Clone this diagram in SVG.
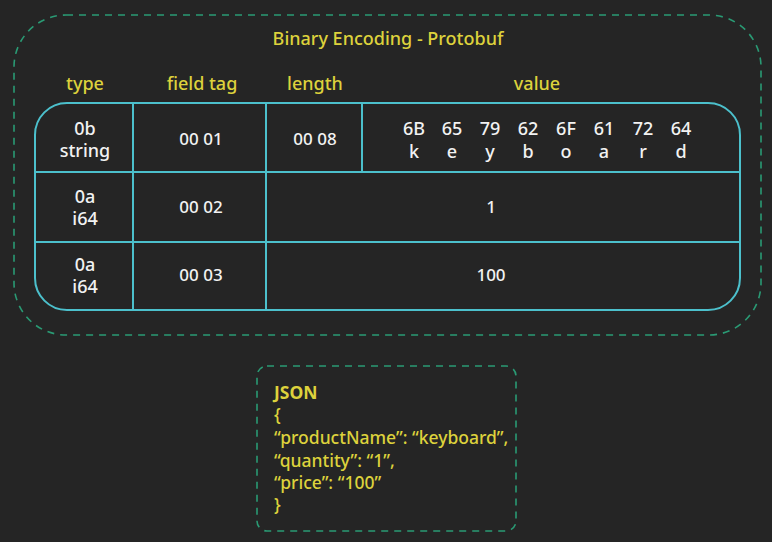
<svg xmlns="http://www.w3.org/2000/svg" width="772" height="542" viewBox="0 0 772 542">
<style>
.dash{fill:none;stroke:#2a9a74;stroke-width:1.6;stroke-dasharray:7 6}
.grid{fill:none;stroke:#4cc0cc;stroke-width:2}
.y{fill:#ddd23c;font-family:"Noto Sans",sans-serif;font-size:18px;font-weight:500;text-anchor:middle}
.w{fill:#f2f2f2;font-family:"Noto Sans",sans-serif;font-size:18px;font-weight:500;text-anchor:middle}
.n{font-size:17px}
.j{fill:#ddd23c;font-family:"Noto Sans",sans-serif;font-size:17.5px;font-weight:500}
.b{font-weight:700}
</style>
<rect width="772" height="542" fill="#252525"/>
<g id="protobuf">
<rect class="dash" x="14" y="15" width="747" height="320" rx="52"/>
<text class="y" x="388" y="45">Binary Encoding - Protobuf</text>
<text class="y" x="85" y="90">type</text>
<text class="y" x="202" y="90">field tag</text>
<text class="y" x="315" y="90">length</text>
<text class="y" x="537" y="90">value</text>
</g>
<g id="table">
<rect class="grid" x="35" y="103" width="705" height="207" rx="32"/>
<line class="grid" x1="35" y1="172" x2="740" y2="172"/>
<line class="grid" x1="35" y1="242" x2="740" y2="242"/>
<line class="grid" x1="133" y1="103" x2="133" y2="310"/>
<line class="grid" x1="266" y1="103" x2="266" y2="310"/>
<line class="grid" x1="362" y1="103" x2="362" y2="172"/>
</g>
<g id="row1">
<text class="w" x="85" y="135">0b</text>
<text class="w" x="85" y="157">string</text>
<text class="w n" x="201" y="145">00 01</text>
<text class="w n" x="315" y="145">00 08</text>
<text class="w" x="414" y="135">6B</text><text class="w" x="414" y="158">k</text>
<text class="w" x="452" y="135">65</text><text class="w" x="452" y="158">e</text>
<text class="w" x="490" y="135">79</text><text class="w" x="490" y="158">y</text>
<text class="w" x="528" y="135">62</text><text class="w" x="528" y="158">b</text>
<text class="w" x="566" y="135">6F</text><text class="w" x="566" y="158">o</text>
<text class="w" x="604" y="135">61</text><text class="w" x="604" y="158">a</text>
<text class="w" x="643" y="135">72</text><text class="w" x="643" y="158">r</text>
<text class="w" x="681" y="135">64</text><text class="w" x="681" y="158">d</text>
</g>
<g id="row2">
<text class="w" x="85" y="203">0a</text>
<text class="w" x="85" y="225">i64</text>
<text class="w n" x="201" y="213">00 02</text>
<text class="w n" x="491" y="213">1</text>
</g>
<g id="row3">
<text class="w" x="85" y="271">0a</text>
<text class="w" x="85" y="293">i64</text>
<text class="w n" x="201" y="281">00 03</text>
<text class="w n" x="491" y="281">100</text>
</g>
<g id="json">
<rect class="dash" x="257" y="366" width="259" height="165" rx="10"/>
<text class="j b" x="274" y="399">JSON</text>
<text class="j" x="274" y="421">{</text>
<text class="j" x="274" y="444">“productName”: “keyboard”,</text>
<text class="j" x="274" y="467">“quantity”: “1”,</text>
<text class="j" x="274" y="489">“price”: “100”</text>
<text class="j" x="274" y="511">}</text>
</g>
</svg>
